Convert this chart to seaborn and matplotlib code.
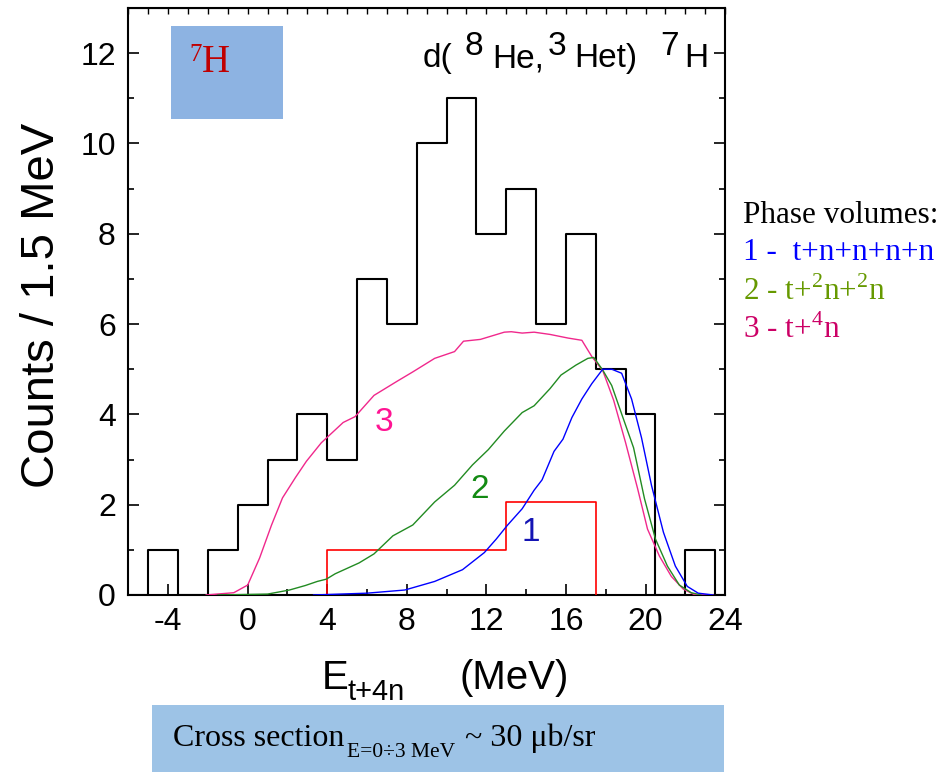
import matplotlib
matplotlib.use("Agg")
import matplotlib.pyplot as plt
from matplotlib.patches import Rectangle
from matplotlib.ticker import MultipleLocator
import seaborn as sns

# measured spectrum, 1.5 MeV bins (zero bins at both ends close the outline)
bin_edges = [-6.5, -5, -3.5, -2, -0.5, 1, 2.5, 4, 5.5, 7, 8.5, 10, 11.5, 13,
             14.5, 16, 17.5, 19, 20.5, 22, 23.5, 25]
counts = [0, 1, 0, 1, 2, 3, 4, 3, 7, 6, 10, 11, 8, 9, 6, 8, 5, 4, 0, 1, 0]

# red estimate (two wide bins)
red_edges = [3.99, 4, 13, 17.5, 17.51]
red_vals = [0, 1, 2.06, 0]

# phase volume curves
e1 = [3.3, 6.0, 7.9, 9.4, 10.8, 11.9, 12.5, 13.05, 13.8, 14.4, 14.8, 15.4, 15.85,
      16.3, 16.8, 17.3, 17.85, 18.3, 18.8, 19.3, 19.8, 20.3, 20.9, 21.5, 22.1,
      22.65, 23.4]
pv1 = [0, 0.04, 0.11, 0.3, 0.56, 0.94, 1.24, 1.54, 1.91, 2.32, 2.55, 3.18, 3.45,
       3.93, 4.34, 4.68, 5.0, 5.0, 4.91, 4.34, 3.48, 2.43, 1.39, 0.64, 0.19,
       0.04, 0]

e2 = [-1.5, 1.0, 2.1, 2.9, 3.5, 3.95, 4.4, 5.6, 6.35, 7.3, 8.3, 9.4, 10.4, 11.3,
      12.1, 12.9, 13.8, 14.4, 15.2, 15.75, 16.5, 17.1, 17.4, 17.85, 18.3, 18.8,
      19.4, 19.95, 20.5, 21.1, 21.7, 22.3, 22.8]
pv2 = [0, 0.02, 0.11, 0.21, 0.3, 0.35, 0.47, 0.71, 0.91, 1.31, 1.55, 2.06, 2.43,
       2.88, 3.22, 3.63, 4.04, 4.19, 4.57, 4.87, 5.09, 5.24, 5.26, 4.98, 4.64,
       4.01, 3.26, 2.13, 1.24, 0.64, 0.22, 0.05, 0]

e3 = [-2.1, -0.7, 0.0, 0.6, 1.2, 1.75, 2.4, 2.95, 3.7, 4.8, 5.4, 6.35, 7.5, 8.3,
      9.4, 10.4, 10.85, 11.7, 12.9, 13.25, 13.8, 14.4, 15.2, 16.1, 16.8, 17.3,
      17.85, 18.4, 19.0, 19.6, 20.1, 20.7, 21.3, 21.9, 22.45, 23.4]
pv3 = [0, 0.05, 0.22, 0.82, 1.55, 2.15, 2.6, 2.96, 3.37, 3.82, 3.95, 4.42, 4.73,
       4.94, 5.24, 5.39, 5.62, 5.66, 5.82, 5.83, 5.8, 5.82, 5.77, 5.69, 5.64,
       5.28, 4.97, 4.31, 3.37, 2.36, 1.46, 0.86, 0.41, 0.13, 0.01, 0]

x_ticks = [-4, 0, 4, 8, 12, 16, 20, 24]
y_ticks = [0, 2, 4, 6, 8, 10, 12]

legend_lines = ["Phase volumes:",
                "1 -  t+n+n+n+n",
                r"2 - t+$^{\mathregular{2}}$n+$^{\mathregular{2}}$n",
                r"3 - t+$^{\mathregular{4}}$n"]
legend_colors = ["black", "#0000FF", "#669900", "#CC0066"]

sns.set_style("ticks")
plt.rcParams["font.family"] = ["Liberation Sans", "DejaVu Sans"]
plt.rcParams["mathtext.fontset"] = "custom"
plt.rcParams["mathtext.rm"] = "Liberation Sans"
for k in ["text.color", "axes.labelcolor", "xtick.color", "ytick.color"]:
    plt.rcParams[k] = "black"
serif = ["Liberation Serif", "DejaVu Serif"]

W, H = 943, 772
fig = plt.figure(figsize=(W / 100, H / 100), dpi=100)
ax = fig.add_axes([0.1361, 0.2293, 0.6328, 0.7604])


def put(s, px, base, size, **kw):
    # text by pixel position (left edge, baseline) on the figure
    fig.text(px / W, 1 - base / H, s, fontsize=size, va="baseline", ha="left", **kw)


# blue tag box in the corner
ax.add_patch(Rectangle((0.0711, 0.8104), 0.1877, 0.159, transform=ax.transAxes,
                       facecolor="#8DB3E2", edgecolor="none", zorder=0))
put("7", 189, 61, 18, family=serif, color="#C00000")
put("H", 202, 72, 28, family=serif, color="#C00000")

centers = [(a + b) / 2 for a, b in zip(bin_edges[:-1], bin_edges[1:])]
sns.histplot(x=centers, weights=counts, bins=bin_edges, element="step", fill=False,
             color="black", linewidth=1.5, ax=ax, zorder=3)
red_centers = [(a + b) / 2 for a, b in zip(red_edges[:-1], red_edges[1:])]
sns.histplot(x=red_centers, weights=red_vals, bins=red_edges, element="step",
             fill=False, color="#FF0000", linewidth=1.2, ax=ax, zorder=3)

sns.lineplot(x=e3, y=pv3, color="#F0288C", linewidth=1.0, ax=ax, zorder=4)
sns.lineplot(x=e2, y=pv2, color="#228B22", linewidth=1.0, ax=ax, zorder=4)
sns.lineplot(x=e1, y=pv1, color="#0000FF", linewidth=1.0, ax=ax, zorder=4)

ax.text(6.85, 3.82, "3", color="#FF1493", fontsize=24, ha="center", va="center")
ax.text(11.65, 2.33, "2", color="#138A13", fontsize=24, ha="center", va="center")
ax.text(14.25, 1.38, "1", color="#1414B4", fontsize=24, ha="center", va="center")

ax.set_xlim(-6, 24)
ax.set_ylim(0, 13)
ax.set_xticks(x_ticks)
ax.set_xticklabels([str(t) for t in x_ticks])
ax.set_yticks(y_ticks)
ax.xaxis.set_minor_locator(MultipleLocator(2))
ax.yaxis.set_minor_locator(MultipleLocator(1))
ax.tick_params(axis="both", which="both", direction="in", width=1.2,
               labelsize=23, right=True, top=False)
ax.tick_params(axis="both", which="major", length=8, pad=9)
ax.tick_params(axis="both", which="minor", length=4)
ax.set_xlabel("")
ax.set_ylabel("")
for sp in ax.spines.values():
    sp.set_visible(True)
    sp.set_linewidth(1.5)
    sp.set_color("black")

top = ax.secondary_xaxis("top")
top.set_xticks(range(-6, 25))
top.tick_params(direction="in", length=4, width=1.0, labeltop=False)

# reaction title, mass numbers raised but kept at full size
put("d(", 423, 67, 24)
put("8", 465, 55, 24)
put("He,", 492, 67, 24)
put("3", 548, 55, 24)
put("Het)", 574, 67, 24)
put("7", 660, 55, 24)
put("H", 684, 67, 24)

fig.text(42 / W, 1 - 305 / H, "Counts / 1.5 MeV", fontsize=34,
         rotation=90, ha="center", va="center")
put("E", 322, 689, 29)
put("t+4n", 348, 700, 21)
put("(MeV)", 460, 689, 29)

for i, (line, col) in enumerate(zip(legend_lines, legend_colors)):
    put(line, 743, [223, 260, 300, 338][i], 22.5, color=col, family=serif)

fig.patches.append(Rectangle((0.1612, 0.0), 0.6066, 0.0868, transform=fig.transFigure,
                             facecolor="#9DC3E6", edgecolor="none", zorder=0))
put("Cross section", 173, 746, 23, family=serif)
put("E=0÷3 MeV", 347, 757, 15.5, family=serif)
put("~ 30 μb/sr", 465, 746, 23, family=serif)

fig.savefig("out.png", dpi=100)
plt.close(fig)
